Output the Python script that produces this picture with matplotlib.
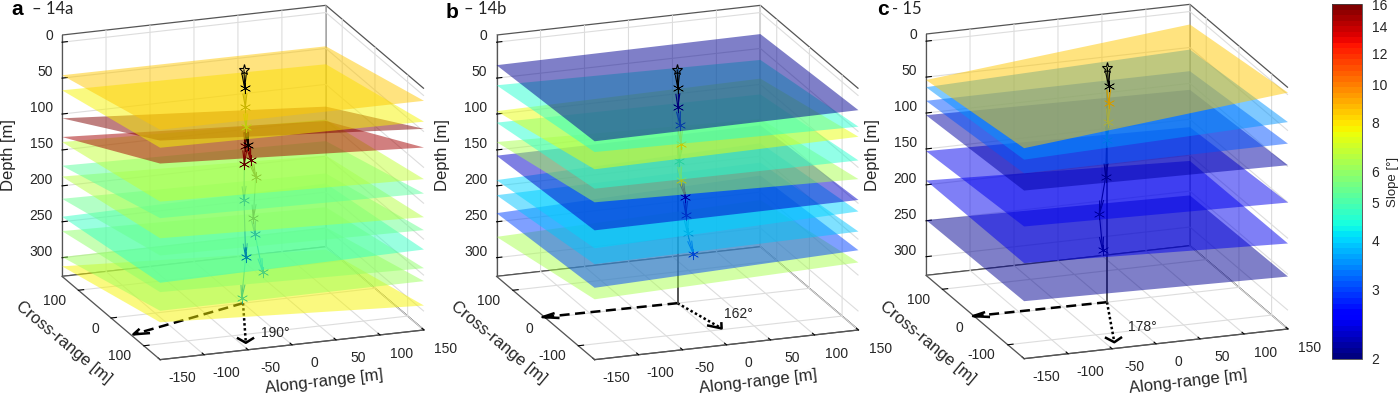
import numpy as np
import matplotlib
matplotlib.use("Agg")
import matplotlib.pyplot as plt
from matplotlib.colors import LogNorm
from matplotlib.cm import ScalarMappable
from mpl_toolkits.mplot3d import proj3d
from mpl_toolkits.mplot3d.art3d import Poly3DCollection

plt.rcParams['font.family'] = ['Liberation Sans', 'DejaVu Sans']
plt.rcParams['grid.color'] = '#dddddd'
plt.rcParams['grid.linewidth'] = 0.8
plt.rcParams['axes.unicode_minus'] = False

along_ticks = [-150, -100, -50, 0, 50, 100, 150]
cross_ticks = [-100, 0, 100]
depth_ticks = [0, 50, 100, 150, 200, 250, 300]
slope_ticks = [2, 3, 4, 5, 6, 8, 10, 12, 14, 16]

# plane depth [m] at the left, right and front corners, and plane slope [deg]
a_left = [46, 67, 106, 132, 139, 172, 187, 218, 243, 263, 299, 312]
a_right = [7, 36, 46, 72, 116, 136, 169, 187, 214, 240, 258, 292]
a_front = [6, 31, 21, 53, 106, 129, 157, 181, 219, 232, 258, 274]
a_slope = [8.4, 7.8, 15.5, 14.8, 6.8, 5.2, 6.5, 5.4, 4.7, 6.0, 6.2, 7.7]

b_left = [32, 60, 96, 112, 139, 158, 192, 213, 238, 271]
b_right = [20, 43, 57, 90, 116, 145, 161, 189, 215, 232]
b_front = [22, 37, 61, 88, 107, 146, 171, 193, 226, 242]
b_slope = [2.1, 4.6, 7.4, 4.6, 6.4, 2.35, 4.0, 3.9, 3.05, 6.4]

c_left = [54, 64, 83, 103, 153, 194, 249]
c_right = [-3, 38, 68, 98, 150, 207, 253]
c_front = [33, 49, 68, 92, 142, 193, 246]
c_slope = [8.5, 3.5, 3.1, 2.15, 2.5, 2.5, 2.1]

# event tracks: along-range, depth, slope of the arriving segment
a1_along = [1.1, 1.9, 2.7, 3.4, 2.3, 1.5, 1.1, 3.0, -1.5]
a1_depth = [1.4, 27, 53, 81.5, 107, 132, 182, 262, 319]
a1_slope = [2, 2, 7.5, 7, 15, 15, 5, 4, 4.6]
a2_along = [3.4, 6.0, 8.7, 14.4, 11.7, 13.6, 22.3]
a2_depth = [81.5, 107, 128.4, 153, 209, 231.5, 285]
a2_slope = [7, 15, 15, 6, 5, 4, 4.4]

b_along = [-0.4, 0.4, 0.4, 3.0, 3.8, 1.9, 3.8, 9.0, 9.5, 11.4, 18.0]
b_depth = [1.4, 27, 53, 78, 105, 128.4, 155, 179, 204, 230.4, 260]
b_tslope = [2, 2, 2.1, 2.6, 8, 5, 8.5, 2.3, 2.4, 3.5, 3.3]

c_along = [0.4, 1.9, 1.9, 0.8, -0.4, -1.5, -8.7, -4.9]
c_depth = [-0.4, 25, 49, 75, 100, 151, 202, 253]
c_tslope = [2, 2, 9, 8, 3.5, 2.3, 2.1, 2.1]

# direction arrows at the box floor: (along, cross) of the ends
a_dash = (-147, -60)
a_dot = (-44, -127)
b_dash = (-152, 4)
b_dot = (14.5, -96)
c_dash = (-151, 3.6)
c_dot = (-40, -130)

FLOOR = 326
TOP = -10
W, H = 1400, 393
TEXT = '#262626'
cmap = plt.get_cmap('jet', 64)
norm = LogNorm(2, 16)
fig = plt.figure(figsize=(14, 3.93), dpi=100)


def fx(px):
    return px / W


def fy(py):
    return 1 - py / H


def seg(ax, along, depth, slope):
    for i in range(1, len(along)):
        col = (0, 0, 0) if i == 1 else tuple(0.65 * np.array(cmap(norm(slope[i]))[:3]))
        x0, x1 = along[i - 1], along[i]
        d0, d1 = depth[i - 1], depth[i]
        z = 400 - 0.5 * (d0 + d1)
        ax.plot([x0, x1], [0, 0], [d0, d1], color=col, lw=0.8, zorder=z)
        L = min(18, 0.9 * (d1 - d0))
        dirx = (x1 - x0) / (d1 - d0)
        tx = x1 - dirx * L
        td = d1 - L
        ax.plot([tx - 2.2, x1, tx + 2.2], [0, 0, 0], [td, d1, td], color=col,
                lw=0.8, zorder=z)
        ax.plot([x1], [0], [d1], marker=(6, 2, 0), ms=8, mew=0.45,
                color=col, zorder=z, ls='none')


def big_arrow(ax, end, ls, lw=1.8):
    ex, ey = end
    ax.plot([0, ex], [0, ey], [FLOOR, FLOOR], color='k', ls=ls, lw=lw, zorder=1)
    n = np.hypot(ex, ey)
    ux, uy = ex / n, ey / n
    px, py = -uy, ux
    bx, by = ex - 15 * ux, ey - 15 * uy
    ax.plot([bx + 8 * px, ex, bx - 8 * px], [by + 8 * py, ey, by - 8 * py],
            [FLOOR] * 3, color='k', lw=lw, zorder=1)


def label3d(ax, x, y, z, s, ha):
    """Write a text at a 3D data point, as a plain 2D text of the projection."""
    tx, ty, _ = proj3d.proj_transform(x, y, z, ax.get_proj())
    ax.text2D(tx, ty, s, fontsize=10, color=TEXT, ha=ha, va='center', clip_on=False)


def panel(cx, cy, left, right, front, slope, tracks, dash, dot, ylabels, vline):
    S = 380.0
    l = cx - 0.5135 * S
    b = (H - cy) - 0.5135 * S
    ax = fig.add_axes([l / W, b / H, S / W, S / H], projection='3d',
                      proj_type='ortho', computed_zorder=False)
    ax.patch.set_visible(False)
    ax.set_box_aspect((281, 287, 254), zoom=1.213)
    ax.view_init(elev=18, azim=-110)
    for i in range(len(left)):
        L, R, F = left[i], right[i], front[i]
        B = L + R - F
        verts = [[(-150, 150, L), (150, 150, B), (150, -150, R), (-150, -150, F)]]
        col = cmap(norm(slope[i]))
        poly = Poly3DCollection(verts, facecolors=[col[:3] + (0.5,)],
                                edgecolors='none', linewidths=0)
        poly.set_zorder(400 - (L + R) / 2)
        ax.add_collection3d(poly)
    if vline:
        ax.plot([0, 0], [0, 0], [tracks[0][1][0], FLOOR], color='#444444',
                lw=1.3, zorder=2)
    for al, de, sl in tracks:
        seg(ax, al, de, sl)
    al, de, _ = tracks[0]
    ax.plot([al[0]], [0], [de[0]], marker='*', ms=8, mfc='none', mec='k', mew=0.8,
            zorder=399, ls='none')
    big_arrow(ax, dash, (0, (4.0, 2.2)))
    big_arrow(ax, dot, (0, (1, 1)))
    ax.set_xlim(-150, 150)
    ax.set_ylim(-150, 150)
    ax.set_zlim(FLOOR, TOP)
    ax.set_xticks(along_ticks)
    ax.set_yticks(cross_ticks)
    ax.set_zticks(depth_ticks)
    ax.set_xticklabels([])
    ax.set_yticklabels([])
    ax.set_zticklabels([])
    for axis in (ax.xaxis, ax.yaxis, ax.zaxis):
        axis.set_pane_color((1, 1, 1, 1))
        axis.pane.set_edgecolor('#555555')
        axis.pane.set_linewidth(0.9)
        axis.line.set_color('#555555')
        axis.line.set_linewidth(0.9)
        axis._axinfo['tick']['inward_factor'] = 0.0
        axis._axinfo['tick']['outward_factor'] = 0.25
        axis._axinfo['tick']['linewidth'] = {True: 0.8, False: 0.5}
        axis._axinfo['tick']['color'] = '#444444'
    # tick labels sit where the reference has them, off the box edges
    for v in along_ticks:
        label3d(ax, v, -217, FLOOR, str(v), 'center')
    for v, s in zip(cross_ticks, ylabels):
        label3d(ax, -164, v, FLOOR + 13, s, 'right')
    for v in depth_ticks:
        label3d(ax, -152, 173, v, str(v), 'right')
    fig.text(fx(cx + 81), fy(381.5), 'Along-range [m]', fontsize=12, color=TEXT,
             rotation=6.6, ha='center', va='center', rotation_mode='anchor')
    fig.text(fx(cx - 179), fy(342), 'Cross-range [m]', fontsize=12, color=TEXT,
             rotation=-39.8, ha='center', va='center', rotation_mode='anchor')
    fig.text(fx(cx - 234.5), fy(155), 'Depth [m]', fontsize=12, color=TEXT,
             rotation=90, ha='center', va='center', rotation_mode='anchor')
    return ax


panel(243, 182.5, a_left, a_right, a_front, a_slope,
      [(a1_along, a1_depth, a1_slope), (a2_along, a2_depth, a2_slope)],
      a_dash, a_dot, ['100', '0', '100'], False)
panel(677.5, 182.5, b_left, b_right, b_front, b_slope,
      [(b_along, b_depth, b_tslope)],
      b_dash, b_dot, ['-100', '0', '100'], True)
panel(1107, 181.5, c_left, c_right, c_front, c_slope,
      [(c_along, c_depth, c_tslope)],
      c_dash, c_dot, ['-100', '0', '100'], True)

for px, py, s in [(275, 337, '190°'), (738, 318, '162°'), (1142, 331, '178°')]:
    fig.text(fx(px), fy(py), s, fontsize=10, color=TEXT, ha='center', va='baseline')

for px, py, s, tx, t in [(11, 15.3, 'a', 32, '– 14a'),
                         (446, 17.5, 'b', 464, '– 14b'),
                         (877, 15.3, 'c', 892, '- 15')]:
    fig.text(fx(px), fy(py), s, fontsize=15, fontweight='bold', color='k')
    fig.text(fx(tx), fy(14), t, fontsize=12, family='Lato', color=TEXT)

cax = fig.add_axes([1332 / W, 1 - 359 / H, 30 / W, 355 / H])
cb = fig.colorbar(ScalarMappable(norm=norm, cmap=cmap), cax=cax)
cb.minorticks_off()
cb.set_ticks(slope_ticks)
cb.set_ticklabels([str(v) for v in slope_ticks])
cb.ax.tick_params(length=0, labelsize=10, labelcolor=TEXT, pad=7)
cb.outline.set_linewidth(0.6)
cb.outline.set_edgecolor('#444444')
cb.set_label('Slope [°]', fontsize=9.5, color=TEXT, labelpad=0)

fig.savefig('out.png', dpi=100)
